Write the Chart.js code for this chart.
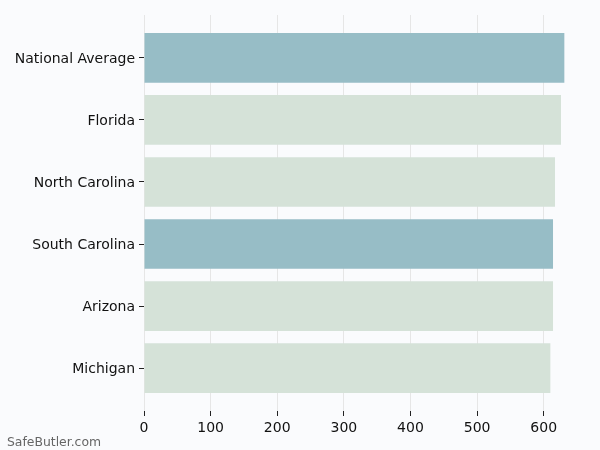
<!DOCTYPE html>
<html>
<head>
<meta charset="utf-8">
<script src="https://cdn.jsdelivr.net/npm/chart.js@4.4.1/dist/chart.umd.min.js"></script>
<style>
  html, body { margin: 0; padding: 0; background: #fafbfd; }
  #wrap { position: relative; width: 600px; height: 450px; }
  #credit {
    position: absolute; left: 7px; top: 434px;
    font-family: 'DejaVu Sans', sans-serif; font-size: 12.4px; color: #666;
  }
</style>
</head>
<body>
<div id="wrap">
  <canvas id="chart"></canvas>
  <div id="credit">SafeButler.com</div>
</div>
<script>
// Values
const categories = ['National Average', 'Florida', 'North Carolina', 'South Carolina', 'Arizona', 'Michigan'];
const values = [631, 626, 617, 614, 614, 610];
const highlighted = [true, false, false, true, false, false];
const xTicks = [0, 100, 200, 300, 400, 500, 600];

const darkBar = '#97bdc6';
const lightBar = '#d5e2d8';

const tickFont = { family: 'DejaVu Sans', size: 14 };

new Chart(document.getElementById('chart').getContext('2d'), {
    type: 'bar',
    data: {
        datasets: [{
            data: values.map((v, i) => ({ x: v, y: i })),
            backgroundColor: highlighted.map(h => h ? darkBar : lightBar),
            barPercentage: 1,
            categoryPercentage: 0.8
        }]
    },
    options: {
        indexAxis: 'y',
        responsive: true,
        maintainAspectRatio: false,
        animation: false,
        layout: { padding: { left: 0, right: 15, top: 15, bottom: 0 } },
        scales: {
            x: {
                type: 'linear',
                min: 0,
                max: 662,
                border: { display: false },
                grid: { color: '#e6e6e6', lineWidth: 1, tickColor: '#222', tickLength: 5 },
                ticks: {
                    color: '#111', font: tickFont, padding: 4,
                    stepSize: 100, includeBounds: false
                },
                afterBuildTicks: (scale) => { scale.ticks = xTicks.map(v => ({ value: v })); },
                afterFit: (scale) => { scale.height = 39; }
            },
            y: {
                type: 'linear',
                min: -0.69,
                max: 5.69,
                reverse: true,
                offset: false,
                border: { display: false },
                grid: { offset: false, drawOnChartArea: false, tickColor: '#222', tickLength: 5 },
                ticks: {
                    color: '#111', font: tickFont, padding: 4, labelOffset: 1.5,
                    callback: (value) => categories[value]
                },
                afterBuildTicks: (scale) => { scale.ticks = categories.map((_, i) => ({ value: i })); },
                afterFit: (scale) => { scale.width = 144; }
            }
        },
        plugins: {
            legend: { display: false },
            tooltip: { enabled: false }
        }
    }
});
</script>
</body>
</html>
